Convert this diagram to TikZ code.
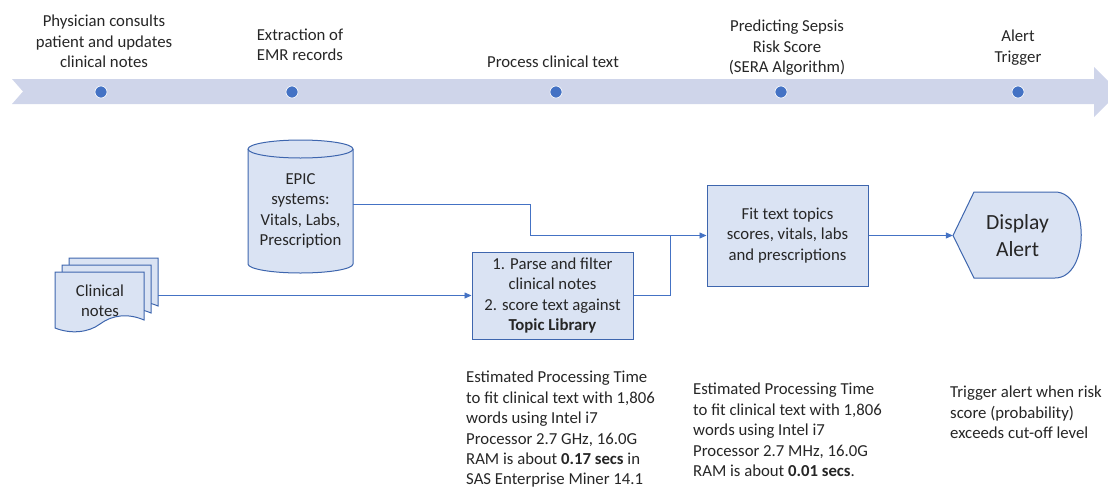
\documentclass[tikz,border=0pt]{standalone}
\usepackage{fontspec}
\setmainfont{Carlito}
\usetikzlibrary{arrows.meta}
\definecolor{bandfill}{HTML}{CFD5EA}
\definecolor{dotblue}{HTML}{4472C4}
\definecolor{boxfill}{HTML}{DAE3F3}
\definecolor{boxline}{HTML}{3E66AE}
\definecolor{txt}{HTML}{262626}
\begin{document}
\begin{tikzpicture}[x=1pt,y=-1pt,
  every node/.style={text=txt,font=\fontsize{16.75}{20.4}\selectfont},
  lbl/.style={align=center},
  dot/.style={circle,fill=dotblue,draw=white,line width=0.6pt,minimum size=12pt,inner sep=0pt},
  box/.style={draw=boxline,fill=boxfill,line width=1pt,align=center,inner sep=2pt},
  shapeline/.style={draw=boxline,fill=boxfill,line width=1pt},
  link/.style={draw=dotblue,line width=0.8pt},
  tip/.style={-{Triangle[length=7pt,width=6pt]}},
  note/.style={align=left,anchor=north west,inner sep=0pt}]
\useasboundingbox (0,0) rectangle (1108,488);
\fill[bandfill] (12,79) -- (1094,79) -- (1094,67) -- (1108,81) -- (1108,103) -- (1094,117) -- (1094,104) -- (12,104) -- (23,91.5) -- cycle;
\node[dot] (d1) at (101,92) {};
\node[dot] (d2) at (292,92) {};
\node[dot] (d3) at (556,92) {};
\node[dot] (d4) at (781,92) {};
\node[dot] (d5) at (1018,92) {};
\node[lbl] (l1) at (104,41.5) {Physician consults\\patient and updates\\clinical notes};
\node[lbl] (l2) at (300,45) {Extraction of\\EMR records};
\node[lbl] (l3) at (553,62) {Process clinical text};
\node[lbl] (l4) at (787,48) {Predicting Sepsis\\Risk Score\\(SERA Algorithm)};
\node[lbl] (l5) at (1018,47.5) {Alert\\Trigger};
\filldraw[shapeline] (248,149) -- (248,264) arc[start angle=180,end angle=360,x radius=52.5pt,y radius=9pt] -- (353,149) arc[start angle=0,end angle=180,x radius=52.5pt,y radius=9pt] -- cycle;
\draw[shapeline,fill=none] (248,149) arc[start angle=180,end angle=360,x radius=52.5pt,y radius=9pt];
\node[lbl,minimum width=105pt] (epic) at (300.5,211) {EPIC\\systems:\\Vitals, Labs,\\Prescription};
\foreach \s in {14,7,0}
  \filldraw[shapeline,shift={(\s,-\s)}] (55,272) -- (144,272) -- (144,320) .. controls (128,313) and (112,315) .. (100,324) .. controls (88,333) and (70,334) .. (55,328) -- cycle;
\node[lbl] (notes) at (100,301) {Clinical\\notes};
\coordinate (notesR) at (158,295.5);
\node[box,minimum width=161pt,minimum height=87pt] (parse) at (552.5,295.5) {1. Parse and filter\\clinical notes\\2. score text against\\\textbf{Topic Library}};
\node[box,minimum width=161pt,minimum height=101pt] (fit) at (787.5,235.5) {Fit text topics\\scores, vitals, labs\\and prescriptions};
\filldraw[shapeline] (953,235.5) -- (974,192) -- (1055,192) .. controls (1090,192) and (1090,278) .. (1055,278) -- (974,278) -- cycle;
\node[lbl,minimum width=129pt,font=\fontsize{21.6}{26.5}\selectfont] (display) at (1017.5,235.5) {Display\\Alert};
\coordinate (epicR) at (353,204);
\coordinate (joinA) at (530,235.5);
\coordinate (joinB) at (670,235.5);
\draw[link,tip] (notesR) -- (parse.west);
\draw[link,tip] (epicR) -| (joinA) -- (fit.west);
\draw[link] (parse.east) -| (joinB);
\draw[link,tip] (fit.east) -- (display.west);
\node[note] (time1) at (466,371) {Estimated Processing Time\\to fit clinical text with 1,806\\words using Intel i7\\Processor 2.7 GHz, 16.0G\\RAM is about \textbf{0.17 secs} in\\SAS Enterprise Miner 14.1};
\node[note] (time2) at (693,383) {Estimated Processing Time\\to fit clinical text with 1,806\\words using Intel i7\\Processor 2.7 MHz, 16.0G\\RAM is about \textbf{0.01 secs}.};
\node[note] (rule) at (950,386) {Trigger alert when risk\\score (probability)\\exceeds cut-off level};
\end{tikzpicture}
\end{document}
